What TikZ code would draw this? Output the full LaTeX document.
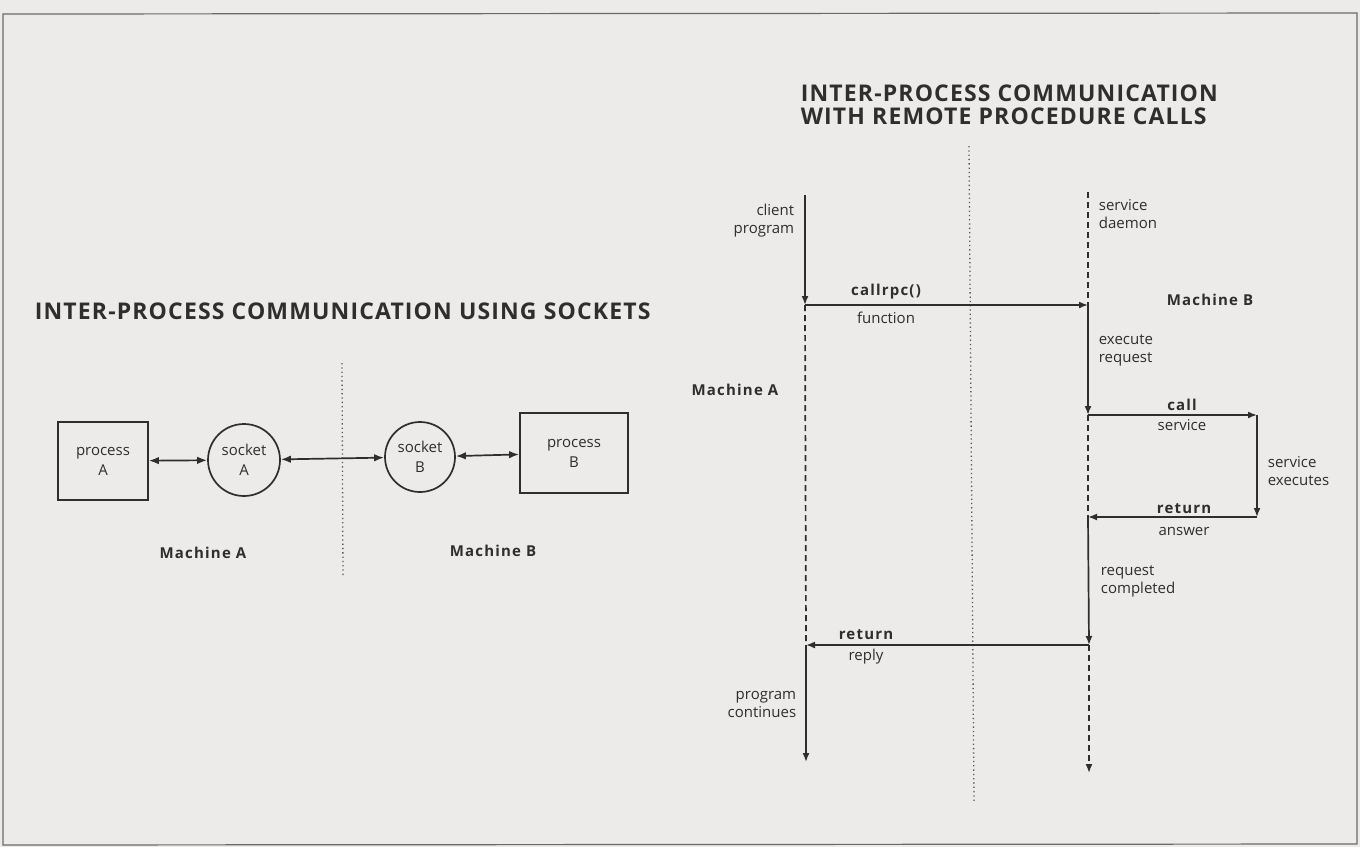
\documentclass[tikz,border=0pt]{standalone}
\usepackage{fontspec}
\setmainfont{Open Sans}
\newfontfamily\bsp[LetterSpace=8]{Open Sans}
\newfontfamily\tsp[LetterSpace=5]{Open Sans}
\usetikzlibrary{arrows.meta}
\definecolor{bg}{HTML}{EDEBE9}
\definecolor{ink}{HTML}{2E2E2E}
\definecolor{frame}{HTML}{6A6A6A}
\begin{document}
\begin{tikzpicture}[x=1pt,y=-1pt,color=ink,line width=1.7pt,
  lbl/.style={font=\fontsize{15}{18}\selectfont,align=center,inner sep=0pt},
  lblL/.style={font=\fontsize{15}{18}\selectfont,align=left,inner sep=0pt,anchor=west},
  lblR/.style={font=\fontsize{15}{18}\selectfont,align=right,inner sep=0pt,anchor=east},
  bold/.style={font=\fontsize{15}{18}\bsp\bfseries\selectfont,inner sep=0pt},
  ttl/.style={font=\fontsize{23}{23.5}\tsp\bfseries\selectfont,align=left,inner sep=0pt,anchor=west},
  box/.style={draw,rectangle,line width=1.7pt,font=\fontsize{15}{20}\selectfont,align=center},
  sock/.style={draw,circle,line width=1.7pt,inner sep=0pt,font=\fontsize{15}{20}\selectfont,align=center},
  arr/.style={-{Latex[length=9pt,width=7pt]}},
  dbl/.style={{Latex[length=10pt,width=7.5pt]}-{Latex[length=10pt,width=7.5pt]}},
  dsh/.style={dash pattern=on 6pt off 4pt},
  dots/.style={line width=1.3pt,dash pattern=on 1.3pt off 3pt,color=ink!80}]
\fill[bg] (0,0) rectangle (1360,847);
\useasboundingbox (0,0) rectangle (1360,847);
\draw[frame,line width=1.2pt] (3,14) -- (1357,13) -- (1357,844) -- (3,845) -- cycle;

% ---------- left diagram ----------
\node[ttl] (t1) at (34,311) {INTER-PROCESS COMMUNICATION USING SOCKETS};
\coordinate (d1a) at (342,363);
\coordinate (d1b) at (343,576);
\draw[dots] (d1a) -- (d1b);

\node[box,minimum width=90pt,minimum height=78pt] (pA) at (103,461) {process\\A};
\node[sock,minimum size=72pt] (sA) at (244,460) {socket\\A};
\node[sock,minimum size=70pt] (sB) at (420,457) {socket\\B};
\node[box,minimum width=108pt,minimum height=80pt] (pB) at (574,453) {process\\B};
\draw[dbl] (pA) -- (sA);
\draw[dbl] (sA) -- (sB);
\draw[dbl] (sB) -- (pB);
\node[bold] (mA1) at (203,553) {Machine A};
\node[bold] (mB1) at (493,551) {Machine B};

% ---------- right diagram ----------
\node[ttl] (t2) at (800,105) {INTER-PROCESS COMMUNICATION\\WITH REMOTE PROCEDURE CALLS};
\coordinate (d2a) at (969,146);
\coordinate (d2b) at (974,802);
\draw[dots] (d2a) -- (d2b);

\coordinate (c0) at (805,195);
\coordinate (c1) at (805,305);
\coordinate (c2) at (806,645);
\coordinate (c3) at (806,762);
\coordinate (s0) at (1088,192);
\coordinate (s1) at (1088,305);
\coordinate (s2) at (1088,415);
\coordinate (s3) at (1088,517);
\coordinate (s4) at (1089,645);
\coordinate (s5) at (1089,773);
\coordinate (e1) at (1257,415);
\coordinate (e2) at (1257,517);

\draw[arr] (c0) -- (c1);
\draw[arr] (c1) -- (s1);
\draw[dsh] (c1) -- (c2);
\draw[dsh] (s0) -- (s1);
\draw[arr] (s1) -- (s2);
\draw[arr] (s2) -- (e1);
\draw[arr] (e1) -- (e2);
\draw[arr] (e2) -- (s3);
\draw[dsh] (s2) -- (s3);
\draw[arr] (s3) -- (s4);
\draw[arr] (s4) -- (c2);
\draw[arr] (c2) -- (c3);
\draw[dsh,arr] (s4) -- (s5);

\node[lblR] (cp) at (795,221) {client\\program};
\node[lblL] (sd) at (1098,214) {service\\daemon};
\node[bold] (rpc) at (886,292) {callrpc()};
\node[lbl] (fn) at (886,318) {function};
\node[bold] (mB2) at (1210,300) {Machine B};
\node[bold] (mA2) at (735,390) {Machine A};
\node[lblL] (er) at (1098,350) {execute\\request};
\node[bold] (call) at (1182,405) {call};
\node[lbl] (svc) at (1182,425) {service};
\node[lblL] (sx) at (1267,471) {service\\executes};
\node[bold] (ret1) at (1184,509) {return};
\node[lbl] (ans) at (1184,531) {answer};
\node[lblL] (rc) at (1100,581) {request\\completed};
\node[bold] (ret2) at (866,635) {return};
\node[lbl] (rep) at (866,657) {reply};
\node[lblR] (pc) at (797,704) {program\\continues};
\end{tikzpicture}
\end{document}
